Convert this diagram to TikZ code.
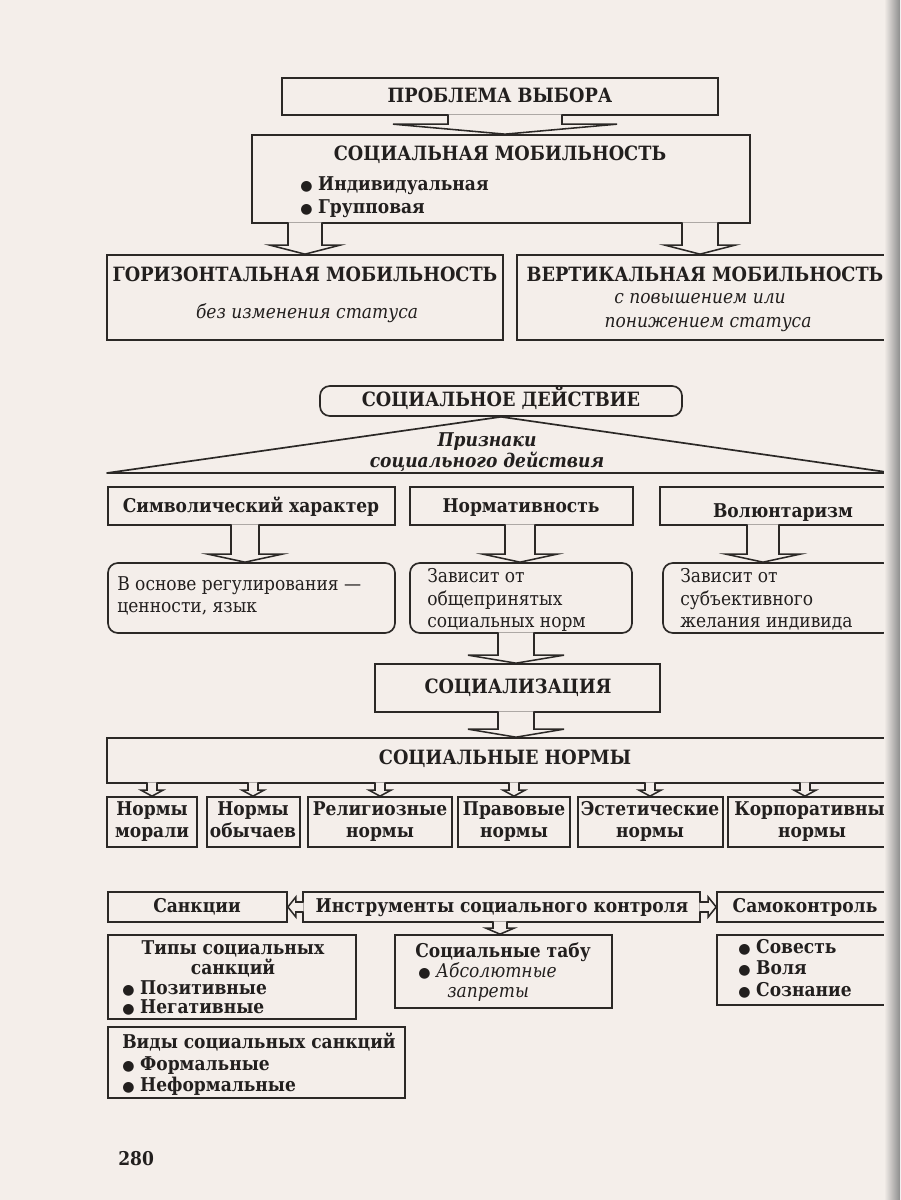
\documentclass[tikz,border=0pt]{standalone}
\usepackage{fontspec}
\setmainfont{DejaVu Serif Condensed}
\newfontfamily\symf{DejaVu Sans}
\usetikzlibrary{fit,calc}
\definecolor{bg}{HTML}{F4EEEA}
\definecolor{lc}{HTML}{2B2826}
\definecolor{tc}{HTML}{221F1E}
\newcommand\bul{{\symf\fontsize{10}{10}\selectfont ●}\hspace{4pt}}
\newcommand\hdown[6]{%
\draw[harrow] ($(#3-#4,0 |- #1.south)+(0,-1.5)$) -- ($(#3-#4,0 |- #2.north)+(0,-#6)$) -- ($(#3-#5,0 |- #2.north)+(0,-#6)$) -- (#3,0 |- #2.north) -- ($(#3+#5,0 |- #2.north)+(0,-#6)$) -- ($(#3+#4,0 |- #2.north)+(0,-#6)$) -- ($(#3+#4,0 |- #1.south)+(0,-1.5)$);}
\newcommand\hleft[6]{%
\draw[harrow] ($(#1.west |- 0,#3-#4)+(1.5,0)$) -- ($(#2.east |- 0,#3-#4)+(#6,0)$) -- ($(#2.east |- 0,#3-#5)+(#6,0)$) -- (#2.east |- 0,#3) -- ($(#2.east |- 0,#3+#5)+(#6,0)$) -- ($(#2.east |- 0,#3+#4)+(#6,0)$) -- ($(#1.west |- 0,#3+#4)+(1.5,0)$);}
\newcommand\hright[6]{%
\draw[harrow] ($(#1.east |- 0,#3-#4)+(-1.5,0)$) -- ($(#2.west |- 0,#3-#4)+(-#6,0)$) -- ($(#2.west |- 0,#3-#5)+(-#6,0)$) -- (#2.west |- 0,#3) -- ($(#2.west |- 0,#3+#5)+(-#6,0)$) -- ($(#2.west |- 0,#3+#4)+(-#6,0)$) -- ($(#1.east |- 0,#3+#4)+(-1.5,0)$);}
\begin{document}
\begin{tikzpicture}[x=0.025cm,y=-0.025cm,
  box/.style={draw=lc, line width=1.2pt, inner sep=0pt},
  rbox/.style={box, rounded corners=7pt},
  ttl/.style={text=tc, font=\bfseries\fontsize{14}{16}\selectfont, inner sep=0pt, text height=8.5pt, text depth=0pt},
  txt/.style={text=tc, font=\bfseries\fontsize{13.5}{15}\selectfont, inner sep=0pt, text height=8pt, text depth=0pt},
  reg/.style={text=tc, font=\fontsize{13.5}{15}\selectfont, inner sep=0pt, text height=8pt, text depth=0pt},
  itx/.style={text=tc, font=\itshape\fontsize{13.5}{15}\selectfont, inner sep=0pt, text height=8pt, text depth=0pt},
  bitx/.style={text=tc, font=\bfseries\itshape\fontsize{13.5}{15}\selectfont, inner sep=0pt, text height=8pt, text depth=0pt},
  harrow/.style={draw=lc, line width=1.1pt, fill=bg, line join=miter},
  edge/.style={draw=lc, line width=1.2pt, line join=round}]
\fill[bg] (0,0) rectangle (900,1200);
\useasboundingbox (0,0) rectangle (900,1200);

% --- mobility
\node[box, fit={(282,78) (718,115)}] (prob) {};
\node[ttl] (tprob) at (500,97) {ПРОБЛЕМА ВЫБОРА};
\node[box, fit={(252,135) (750,223)}] (sm) {};
\node[ttl] (tsm) at (500,155) {СОЦИАЛЬНАЯ МОБИЛЬНОСТЬ};
\node[txt, anchor=west] (sm1) at (300,185) {\bul Индивидуальная};
\node[txt, anchor=west] (sm2) at (300,208) {\bul Групповая};
\hdown{prob}{sm}{505}{57}{112}{10}

\node[box, fit={(107,255) (503,340)}] (hor) {};
\node[ttl] (thor) at (305,276) {ГОРИЗОНТАЛЬНАЯ МОБИЛЬНОСТЬ};
\node[itx] (ihor) at (307,313) {без изменения статуса};
\node[box, fit={(517,255) (893,340)}] (ver) {};
\node[ttl] (tver) at (705,276) {ВЕРТИКАЛЬНАЯ МОБИЛЬНОСТЬ};
\node[itx] (iver1) at (700,298) {с повышением или};
\node[itx] (iver2) at (708,322) {понижением статуса};
\hdown{sm}{hor}{305}{17}{35}{9}
\hdown{sm}{ver}{700}{18}{35}{9}

% --- social action
\node[rbox, fit={(320,386) (682,416)}] (sd) {};
\node[ttl] (tsd) at (501,401) {СОЦИАЛЬНОЕ ДЕЙСТВИЕ};
\coordinate (tl) at (107,473);
\coordinate (tr) at (893,473);
\draw[edge] (tl) -- (sd.south) -- (tr) -- cycle;
\node[bitx] (pr1) at (487,441) {Признаки};
\node[bitx] (pr2) at (487,462) {социального действия};

\node[box, fit={(108,487) (395,525)}] (symb) {};
\node[txt] (tsymb) at (251,507) {Символический характер};
\node[box, fit={(410,487) (633,525)}] (norm) {};
\node[txt] (tnorm) at (521,507) {Нормативность};
\node[box, fit={(660,487) (893,525)}] (vol) {};
\node[txt] (tvol) at (783,512) {Волюнтаризм};

\node[rbox, fit={(108,563) (395,633)}] (r1) {};
\node[reg, anchor=west] (r1a) at (117,585) {В основе регулирования —};
\node[reg, anchor=west] (r1b) at (117,607) {ценности, язык};
\node[rbox, fit={(410,563) (632,633)}] (r2) {};
\node[reg, anchor=west] (r2a) at (427,577) {Зависит от};
\node[reg, anchor=west] (r2b) at (427,600) {общепринятых};
\node[reg, anchor=west] (r2c) at (427,622) {социальных норм};
\node[rbox, fit={(663,563) (893,633)}] (r3) {};
\node[reg, anchor=west] (r3a) at (680,577) {Зависит от};
\node[reg, anchor=west] (r3b) at (680,600) {субъективного};
\node[reg, anchor=west] (r3c) at (680,622) {желания индивида};
\hdown{symb}{r1}{245}{14}{37}{8}
\hdown{norm}{r2}{520}{15}{37}{8}
\hdown{vol}{r3}{763}{16}{37}{8}

% --- socialization
\node[box, fit={(375,664) (660,712)}] (soc) {};
\node[ttl] (tsoc) at (518,688) {СОЦИАЛИЗАЦИЯ};
\hdown{r2}{soc}{516}{18}{48}{8}
\node[box, fit={(107,738) (893,783)}] (sn) {};
\node[ttl] (tsn) at (505,759) {СОЦИАЛЬНЫЕ НОРМЫ};
\hdown{soc}{sn}{516}{18}{48}{8}

\node[box, fit={(107,797) (197,847)}] (n1) {};
\node[txt] (n1a) at (152,810) {Нормы};
\node[txt] (n1b) at (152,832) {морали};
\node[box, fit={(207,797) (300,847)}] (n2) {};
\node[txt] (n2a) at (253,810) {Нормы};
\node[txt] (n2b) at (253,832) {обычаев};
\node[box, fit={(308,797) (452,847)}] (n3) {};
\node[txt] (n3a) at (380,810) {Религиозные};
\node[txt] (n3b) at (380,832) {нормы};
\node[box, fit={(458,797) (570,847)}] (n4) {};
\node[txt] (n4a) at (514,810) {Правовые};
\node[txt] (n4b) at (514,832) {нормы};
\node[box, fit={(578,797) (723,847)}] (n5) {};
\node[txt] (n5a) at (650,810) {Эстетические};
\node[txt] (n5b) at (650,832) {нормы};
\node[box, fit={(728,797) (895,847)}] (n6) {};
\node[txt] (n6a) at (815,810) {Корпоративные};
\node[txt] (n6b) at (812,832) {нормы};
\hdown{sn}{n1}{152}{5}{11}{6}
\hdown{sn}{n2}{253}{5}{11}{6}
\hdown{sn}{n3}{380}{5}{11}{6}
\hdown{sn}{n4}{514}{5}{11}{6}
\hdown{sn}{n5}{650}{5}{11}{6}
\hdown{sn}{n6}{805}{5}{11}{6}

% --- social control
\node[box, fit={(108,892) (287,922)}] (sank) {};
\node[txt] (tsank) at (197,907) {Санкции};
\node[box, fit={(303,892) (700,922)}] (instr) {};
\node[txt] (tinstr) at (502,907) {Инструменты социального контроля};
\node[box, fit={(717,892) (895,922)}] (self) {};
\node[txt] (tself) at (805,907) {Самоконтроль};
\hleft{instr}{sank}{907}{5}{10}{8}
\hright{instr}{self}{907}{5}{10}{8}

\node[box, fit={(108,935) (356,1019)}] (types) {};
\node[txt] (ty1) at (233,949) {Типы социальных};
\node[txt] (ty2) at (233,969) {санкций};
\node[txt, anchor=west] (ty3) at (122,989) {\bul Позитивные};
\node[txt, anchor=west] (ty4) at (122,1008) {\bul Негативные};
\node[box, fit={(395,935) (612,1008)}] (taboo) {};
\node[txt] (tb1) at (503,952) {Социальные табу};
\node[itx, anchor=west] (tb2) at (418,972) {\bul Абсолютные};
\node[itx, anchor=west] (tb3) at (447,992) {запреты};
\hdown{instr}{taboo}{500}{7}{14}{6}
\node[box, fit={(717,935) (895,1005)}] (cons) {};
\node[txt, anchor=west] (c1) at (738,948) {\bul Совесть};
\node[txt, anchor=west] (c2) at (738,969) {\bul Воля};
\node[txt, anchor=west] (c3) at (738,991) {\bul Сознание};
\node[box, fit={(108,1027) (405,1098)}] (kinds) {};
\node[txt, anchor=west] (k1) at (122,1043) {Виды социальных санкций};
\node[txt, anchor=west] (k2) at (122,1065) {\bul Формальные};
\node[txt, anchor=west] (k3) at (122,1086) {\bul Неформальные};

\node[txt, anchor=west] (pg) at (118,1160) {280};

\shade[left color=bg, right color=black!45] (884,0) rectangle (900,1200);
\end{tikzpicture}
\end{document}
